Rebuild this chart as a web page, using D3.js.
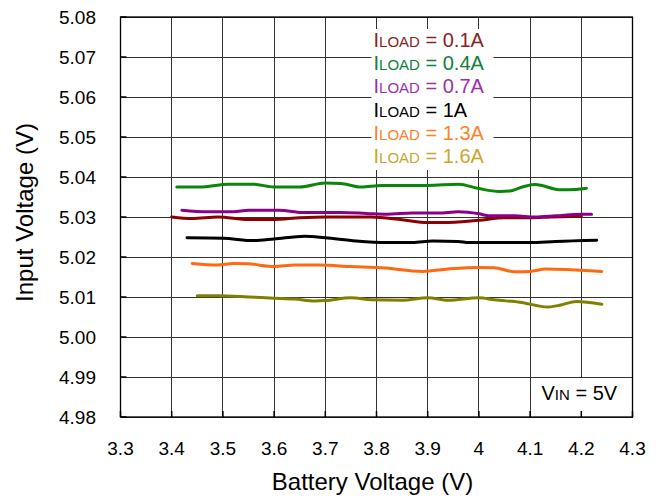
<!DOCTYPE html>
<html>
<head>
<meta charset="utf-8">
<script src="https://cdn.jsdelivr.net/npm/d3@7"></script>
<style>
  body { margin: 0; background: #fff; }
  text { font-family: "Liberation Sans", Arial, sans-serif; }
</style>
</head>
<body>
<div id="chart"></div>
<script>
// Data
const loadLabels = ["0.1A", "0.4A", "0.7A", "1A", "1.3A", "1.6A"];
const lineColors = ["#8b0000", "#0a870a", "#8b008b", "#000000", "#ff6a10", "#808000"];
const textColors = ["#8b2323", "#10803c", "#9b30a8", "#000000", "#ff7f2a", "#c9a72e"];

const xTicks = [3.3, 3.4, 3.5, 3.6, 3.7, 3.8, 3.9, 4, 4.1, 4.2, 4.3];
const yTicks = [4.98, 4.99, 5.00, 5.01, 5.02, 5.03, 5.04, 5.05, 5.06, 5.07, 5.08];

const x01 = [3.40, 3.44, 3.49, 3.55, 3.60, 3.65, 3.70, 3.79, 3.85, 3.90, 3.93, 4.00, 4.05, 4.10, 4.14, 4.20];
const y01 = [5.0300, 5.0296, 5.0300, 5.0294, 5.0294, 5.0298, 5.0300, 5.0300, 5.0293, 5.0286, 5.0286, 5.0292, 5.0298, 5.0298, 5.0300, 5.0302];

const x04 = [3.41, 3.46, 3.51, 3.56, 3.60, 3.65, 3.70, 3.73, 3.77, 3.81, 3.90, 3.96, 4.00, 4.04, 4.06, 4.09, 4.11, 4.16, 4.19, 4.21];
const y04 = [5.0375, 5.0375, 5.0382, 5.0382, 5.0375, 5.0375, 5.0385, 5.0384, 5.0375, 5.0379, 5.0379, 5.0382, 5.0371, 5.0364, 5.0365, 5.0377, 5.0381, 5.0368, 5.0369, 5.0372];

const x07 = [3.42, 3.47, 3.52, 3.55, 3.61, 3.66, 3.73, 3.78, 3.82, 3.87, 3.92, 3.96, 4.00, 4.02, 4.07, 4.11, 4.15, 4.20, 4.22];
const y07 = [5.0317, 5.0313, 5.0313, 5.0317, 5.0317, 5.0311, 5.0311, 5.0309, 5.0307, 5.0310, 5.0310, 5.0313, 5.0308, 5.0303, 5.0303, 5.0300, 5.0303, 5.0307, 5.0307];

const x10 = [3.43, 3.50, 3.56, 3.60, 3.66, 3.70, 3.76, 3.82, 3.87, 3.91, 3.96, 3.98, 4.10, 4.15, 4.23];
const y10 = [5.0248, 5.0247, 5.0241, 5.0245, 5.0252, 5.0248, 5.0240, 5.0236, 5.0236, 5.0240, 5.0239, 5.0236, 5.0236, 5.0239, 5.0242];

const x13 = [3.44, 3.49, 3.52, 3.55, 3.60, 3.64, 3.69, 3.75, 3.81, 3.89, 3.94, 4.00, 4.03, 4.07, 4.10, 4.13, 4.17, 4.20, 4.24];
const y13 = [5.0184, 5.0180, 5.0184, 5.0183, 5.0176, 5.0180, 5.0180, 5.0176, 5.0173, 5.0164, 5.0170, 5.0174, 5.0173, 5.0163, 5.0164, 5.0170, 5.0169, 5.0167, 5.0164];

const x16 = [3.45, 3.49, 3.55, 3.60, 3.64, 3.68, 3.70, 3.75, 3.79, 3.85, 3.90, 3.94, 4.00, 4.03, 4.08, 4.135, 4.16, 4.19, 4.24];
const y16 = [5.0103, 5.0103, 5.0100, 5.0097, 5.0095, 5.0090, 5.0091, 5.0098, 5.0093, 5.0092, 5.0098, 5.0092, 5.0098, 5.0093, 5.0087, 5.0075, 5.0080, 5.0089, 5.0082];

const seriesX = [x01, x04, x07, x10, x13, x16];
const seriesY = [y01, y04, y07, y10, y13, y16];

// Dimensions
const W = 663, H = 498;
const margin = { top: 17, right: 30.5, bottom: 81, left: 120.5 };
const width = W - margin.left - margin.right;
const height = H - margin.top - margin.bottom;

const svg = d3.select("#chart")
  .append("svg")
  .attr("width", W)
  .attr("height", H);

const g = svg.append("g")
  .attr("transform", `translate(${margin.left},${margin.top})`);

const x = d3.scaleLinear().domain([3.3, 4.3]).range([0, width]);
const y = d3.scaleLinear().domain([4.98, 5.08]).range([height, 0]);

// Grid
g.append("g")
  .selectAll("line.v")
  .data(xTicks)
  .enter()
  .append("line")
  .attr("x1", d => x(d)).attr("x2", d => x(d))
  .attr("y1", 0).attr("y2", height)
  .attr("stroke", "#333").attr("stroke-width", 1)
  .attr("shape-rendering", "crispEdges");

g.append("g")
  .selectAll("line.h")
  .data(yTicks)
  .enter()
  .append("line")
  .attr("x1", 0).attr("x2", width)
  .attr("y1", d => y(d)).attr("y2", d => y(d))
  .attr("stroke", "#333").attr("stroke-width", 1)
  .attr("shape-rendering", "crispEdges");

// Lines
const line = d3.line()
  .x(d => x(d[0]))
  .y(d => y(d[1]))
  .curve(d3.curveMonotoneX);

seriesX.forEach((xs, i) => {
  const pts = xs.map((v, j) => [v, seriesY[i][j]]);
  g.append("path")
    .datum(pts)
    .attr("d", line)
    .attr("fill", "none")
    .attr("stroke", lineColors[i])
    .attr("stroke-width", 3)
    .attr("stroke-linejoin", "round")
    .attr("stroke-linecap", "round");
});

// Legend (white box hides grid behind)
g.append("rect")
  .attr("x", 251).attr("y", 12)
  .attr("width", 122).attr("height", 141)
  .attr("fill", "#fff");

loadLabels.forEach((lab, i) => {
  const t = g.append("text")
    .attr("x", 253)
    .attr("y", 29.7 + i * 23.3)
    .attr("fill", textColors[i])
    .attr("font-size", 20);
  t.append("tspan").text("I");
  t.append("tspan").attr("font-size", 15).text("LOAD");
  t.append("tspan").text(" = " + lab);
});

// V_IN note
g.append("rect")
  .attr("x", 413).attr("y", 361)
  .attr("width", 98).attr("height", 33)
  .attr("fill", "#fff");

const vin = g.append("text")
  .attr("x", 421).attr("y", 383)
  .attr("font-size", 20)
  .attr("fill", "#000");
vin.append("tspan").text("V");
vin.append("tspan").attr("font-size", 15).text("IN");
vin.append("tspan").text(" = 5V");

// Frame
g.append("rect")
  .attr("x", 0).attr("y", 0)
  .attr("width", width).attr("height", height)
  .attr("fill", "none")
  .attr("stroke", "#000").attr("stroke-width", 1.3);

// Inward ticks
g.append("g")
  .selectAll("line")
  .data(yTicks)
  .enter()
  .append("line")
  .attr("x1", 0).attr("x2", 6)
  .attr("y1", d => y(d)).attr("y2", d => y(d))
  .attr("stroke", "#000").attr("stroke-width", 1.5);

g.append("g")
  .selectAll("line")
  .data(xTicks)
  .enter()
  .append("line")
  .attr("x1", d => x(d)).attr("x2", d => x(d))
  .attr("y1", height).attr("y2", height - 6)
  .attr("stroke", "#000").attr("stroke-width", 1.5);

// Tick labels
g.append("g")
  .selectAll("text")
  .data(xTicks)
  .enter()
  .append("text")
  .attr("x", d => x(d))
  .attr("y", height + 38)
  .attr("text-anchor", "middle")
  .attr("font-size", 19)
  .text(d => d3.format("")(d));

g.append("g")
  .selectAll("text")
  .data(yTicks)
  .enter()
  .append("text")
  .attr("x", -24.5)
  .attr("y", d => y(d) + 7)
  .attr("text-anchor", "end")
  .attr("font-size", 19)
  .text(d => d.toFixed(2));

// Axis titles
svg.append("text")
  .attr("x", 372.5)
  .attr("y", 490)
  .attr("text-anchor", "middle")
  .attr("font-size", 24)
  .text("Battery Voltage (V)");

svg.append("text")
  .attr("transform", "translate(33,212.5) rotate(-90)")
  .attr("text-anchor", "middle")
  .attr("font-size", 24)
  .text("Input Voltage (V)");
</script>
</body>
</html>
